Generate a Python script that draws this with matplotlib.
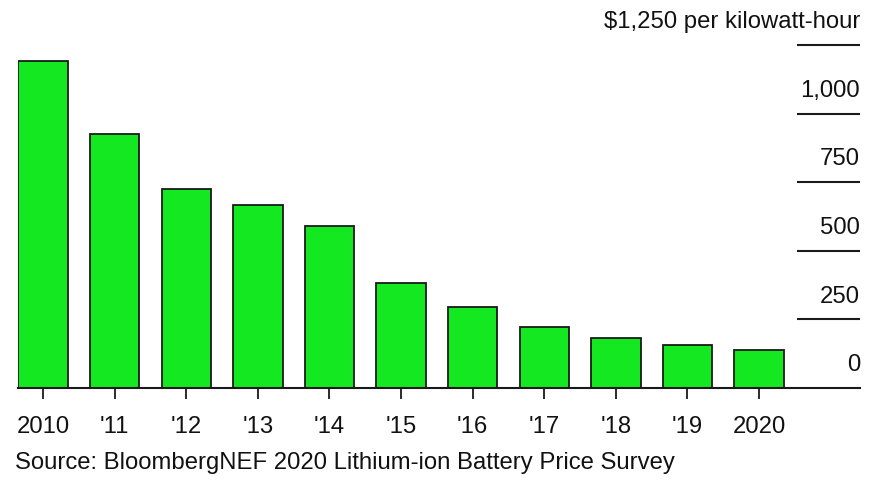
import matplotlib.pyplot as plt

plt.rcParams['font.family'] = ['Liberation Sans', 'DejaVu Sans']

# Lithium-ion battery pack prices, $/kWh
years = ['2010', "'11", "'12", "'13", "'14", "'15", "'16", "'17", "'18", "'19", '2020']
prices = [1191, 924, 726, 668, 592, 384, 295, 221, 181, 157, 137]
y_ticks = [0, 250, 500, 750, 1000, 1250]
y_labels = ['0', '250', '500', '750', '1,000', '$1,250 per kilowatt-hour']

fig = plt.figure(figsize=(8.75, 4.86), dpi=100)
ax = fig.add_axes([18 / 875, (486 - 388) / 486, (860 - 18) / 875, 388 / 486])

x = list(range(len(years)))
ax.bar(x, prices, width=0.69, color='#14e820', edgecolor='#1a1a1a', linewidth=1.3, zorder=2)

ax.set_xlim(-0.35, 11.41)
ax.set_ylim(0, 1414)

# short gridlines on the right with labels above them
for v, lab in zip(y_ticks, y_labels):
    if v > 0:
        ax.hlines(v, 10.53, 11.41, color='#1a1a1a', linewidth=1.5, zorder=1)
    ax.annotate(lab, xy=(11.41, v), xytext=(0, 8.5), textcoords='offset points',
                ha='right', va='bottom', fontsize=17.2, color='#111111')

ax.set_xticks(x)
ax.set_xticklabels(years, fontsize=17.2, color='#111111')
ax.tick_params(axis='x', length=8, width=1.3, color='#1a1a1a', pad=12)
ax.set_yticks([])
for s in ['top', 'right', 'left']:
    ax.spines[s].set_visible(False)
ax.spines['bottom'].set_linewidth(1.5)
ax.spines['bottom'].set_color('#1a1a1a')

fig.text(15 / 875, 1 - 463 / 486, 'Source: BloombergNEF 2020 Lithium-ion Battery Price Survey',
         fontsize=17.2, color='#111111', ha='left', va='center')

fig.savefig('out.png', dpi=100)
